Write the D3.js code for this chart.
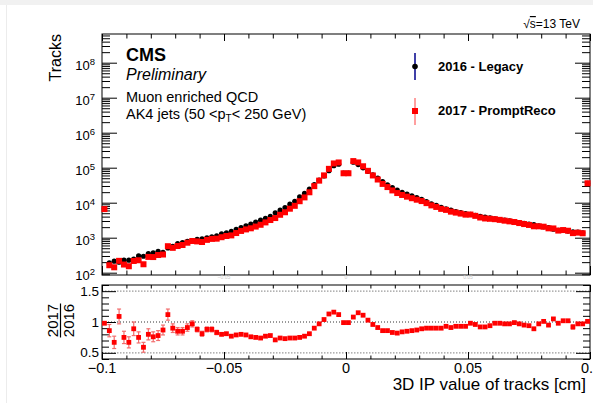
<!DOCTYPE html>
<html>
<head>
<meta charset="utf-8">
<script src="https://d3js.org/d3.v7.min.js"></script>
<style>
  body { margin: 0; background: #fff; }
  svg { display: block; }
  text { font-family: 'Liberation Sans', Arial, Helvetica, sans-serif; }
</style>
</head>
<body>
<div id="vis"></div>
<script>
// binning of the histogram: 100 bins from -0.1 to 0.1 cm
let binLow = -0.1, binWidth = 0.002, nBins = 100;

// 2016 - Legacy, tracks per bin
let counts2016 = [
  6700, 190, 213, 200, 228, 228, 243, 302, 295, 353,
  368, 410, 380, 510, 570, 680, 727, 790, 830, 890,
  930, 985, 1050, 1130, 1290, 1380, 1510, 1720, 1950, 2180,
  2440, 2770, 3160, 3550, 4100, 5130, 6100, 7300, 9100, 11000,
  14700, 18400, 24500, 33000, 44000, 58000, 82000, 114000, 126000, 70000,
  70000, 143000, 123000, 99000, 79000, 62500, 50500, 40000, 32500, 27000,
  23000, 19800, 17500, 15600, 14000, 12500, 10800, 9300, 8400, 7400,
  6700, 6100, 5600, 5250, 4900, 4680, 4380, 4100, 3850, 3690,
  3450, 3300, 3160, 3020, 2830, 2700, 2580, 2460, 2380, 2180,
  2040, 1950, 1750, 1630, 1620, 1550, 1470, 1440, 1380, 35500
];

// 2017 / 2016 ratio per bin
let ratioValues = [
  0.98, 0.86, 0.67, 1.09, 0.75, 0.67, 0.89, 0.75, 0.59, 0.80,
  0.76, 0.78, 0.87, 1.12, 0.90, 0.85, 0.85, 0.91, 0.97, 0.88,
  0.81, 0.88, 0.88, 0.83, 0.80, 0.81, 0.77, 0.79, 0.80, 0.79,
  0.76, 0.75, 0.74, 0.77, 0.78, 0.71, 0.74, 0.73, 0.74, 0.74,
  0.75, 0.77, 0.81, 0.90, 0.97, 1.04, 1.13, 1.16, 1.12, 0.99,
  0.99, 1.08, 1.15, 1.11, 1.03, 0.96, 0.91, 0.86, 0.86, 0.83,
  0.82, 0.84, 0.85, 0.86, 0.87, 0.89, 0.90, 0.90, 0.90, 0.90,
  0.93, 0.91, 0.93, 0.93, 0.93, 0.98, 0.96, 0.92, 0.92, 0.94,
  0.98, 0.98, 0.97, 0.97, 0.99, 0.97, 0.95, 0.94, 0.89, 0.97,
  1.01, 0.95, 1.05, 0.98, 1.02, 1.02, 0.92, 0.97, 0.97, 1.01
];

// ratio uncertainties
let ratioErrors = [
  0.02, 0.10, 0.10, 0.12, 0.10, 0.09, 0.11, 0.09, 0.08, 0.09,
  0.08, 0.08, 0.08, 0.09, 0.07, 0.06, 0.06, 0.06, 0.05, 0.04,
  0.04, 0.04, 0.04, 0.035, 0.03, 0.03, 0.03, 0.03, 0.025, 0.025,
  0.02, 0.02, 0.02, 0.02, 0.02, 0.015, 0.015, 0.01, 0.01, 0.01,
  0.01, 0.01, 0.01, 0.01, 0.01, 0.01, 0.01, 0.01, 0.01, 0.01,
  0.01, 0.01, 0.01, 0.01, 0.01, 0.01, 0.01, 0.01, 0.01, 0.01,
  0.01, 0.01, 0.01, 0.01, 0.01, 0.015, 0.015, 0.015, 0.015, 0.015,
  0.015, 0.015, 0.015, 0.015, 0.015, 0.02, 0.02, 0.02, 0.02, 0.02,
  0.02, 0.02, 0.02, 0.02, 0.02, 0.025, 0.025, 0.025, 0.025, 0.03,
  0.03, 0.03, 0.03, 0.03, 0.03, 0.03, 0.035, 0.03, 0.03, 0.01
];

let xTicksMajor = [-0.1, -0.05, 0, 0.05, 0.1];
let xTickLabels = ['\u22120.1', '\u22120.05', '0', '0.05', '0.'];
let logExponents = [2, 3, 4, 5, 6, 7, 8];
let ratioTicksMajor = [0.5, 1, 1.5];
let ratioTickLabels = ['0.5', '1', '1.5'];

let W = 593, H = 403;
let left = 102, right = 590;
let topY0 = 34, topY1 = 275;   // upper pad
let ratY0 = 285, ratY1 = 359;  // ratio pad

let svg = d3.select('#vis')
  .append('svg')
  .attr('width', W)
  .attr('height', H);

// faint page frame of the screenshot
svg.append('rect').attr('x', 0).attr('y', 0).attr('width', W).attr('height', 5).attr('fill', '#f1f1f1');
svg.append('line').attr('x1', 6.5).attr('x2', 6.5).attr('y1', 5).attr('y2', H).attr('stroke', '#ececec');

let x = d3.scaleLinear().domain([-0.1, 0.1]).range([left, right]);
let y = d3.scaleLog().domain([Math.pow(10, 1.934), Math.pow(10, 8.82)]).range([topY1, topY0]);
let yr = d3.scaleLinear().domain([0.4, 1.6]).range([ratY1, ratY0]);

let bins = d3.range(nBins).map(function (i) {
  return {
    x: binLow + binWidth * (i + 0.5),
    c16: counts2016[i],
    c17: counts2016[i] * ratioValues[i],
    r: ratioValues[i],
    e: ratioErrors[i]
  };
});

// tick values
let logMinor = [];
logExponents.concat([1, 8]).forEach(function (k) {
  for (let m = 2; m <= 9; m++) {
    let v = m * Math.pow(10, k);
    if (v > y.domain()[0] && v < y.domain()[1] && logMinor.indexOf(v) < 0) logMinor.push(v);
  }
});
let logMajor = logExponents.map(function (k) { return Math.pow(10, k); });
let xMinor = d3.range(-10, 11).map(function (k) { return k / 100; })
  .filter(function (v) { return Math.abs(v * 20 - Math.round(v * 20)) > 1e-6; });
let ratioMinor = d3.range(4, 17).map(function (k) { return k / 10; })
  .filter(function (v) { return [0.5, 1, 1.5].indexOf(v) < 0; });

function drawAxis(g, axis) {
  g.call(axis);
  g.select('.domain').remove();
  g.selectAll('line').attr('stroke', '#000').attr('stroke-width', 1);
  g.selectAll('text').remove();
}

function addTicks(parent, scale, orient, pos, values, size) {
  let ax;
  if (orient === 'left') ax = d3.axisLeft(scale);
  if (orient === 'right') ax = d3.axisRight(scale);
  if (orient === 'top') ax = d3.axisTop(scale);
  if (orient === 'bottom') ax = d3.axisBottom(scale);
  ax.tickValues(values).tickSize(-size).tickFormat('');
  let tr = (orient === 'left' || orient === 'right') ? 'translate(' + pos + ',0)' : 'translate(0,' + pos + ')';
  drawAxis(parent.append('g').attr('transform', tr), ax);
}

// ---------------- upper pad ----------------
let up = svg.append('g');

addTicks(up, y, 'left', left, logMajor, 15);
addTicks(up, y, 'left', left, logMinor, 8);
addTicks(up, y, 'right', right, logMajor, 15);
addTicks(up, y, 'right', right, logMinor, 8);
addTicks(up, x, 'bottom', topY1, xTicksMajor, 9);
addTicks(up, x, 'bottom', topY1, xMinor, 4.5);
addTicks(up, x, 'top', topY0, xTicksMajor, 7);
addTicks(up, x, 'top', topY0, xMinor, 4.5);

up.append('rect')
  .attr('x', left).attr('y', topY0)
  .attr('width', right - left).attr('height', topY1 - topY0)
  .attr('fill', 'none').attr('stroke', '#000').attr('stroke-width', 1);

// log labels 10^k
logExponents.forEach(function (k) {
  let t = up.append('text')
    .attr('x', 95)
    .attr('y', y(Math.pow(10, k)) + 7)
    .attr('text-anchor', 'end')
    .style('font-size', '13px');
  t.append('tspan').text('10');
  t.append('tspan').attr('dy', -5).style('font-size', '9.5px').text(k);
});

// faint hidden labels of the upper pad
[-0.05, 0, 0.05].forEach(function (v) {
  up.append('text')
    .attr('x', x(v)).attr('y', topY1 + 4)
    .attr('text-anchor', 'middle')
    .style('font-size', '5px')
    .attr('fill', '#c8c8c8')
    .text(v === 0 ? '0' : (v < 0 ? '\u22120.05' : '0.05'));
});

// Tracks title
up.append('text')
  .attr('text-anchor', 'end')
  .attr('transform', 'translate(61,' + topY0 + ')rotate(-90)')
  .style('font-size', '16px')
  .text('Tracks');

// 2016 points
up.append('g')
  .selectAll('circle')
  .data(bins)
  .enter()
  .append('circle')
  .attr('cx', function (d) { return x(d.x); })
  .attr('cy', function (d) { return y(d.c16); })
  .attr('r', 2.6)
  .attr('fill', '#000');

// 2017 points
up.append('g')
  .selectAll('rect')
  .data(bins)
  .enter()
  .append('rect')
  .attr('x', function (d) { return x(d.x) - 3; })
  .attr('y', function (d) { return y(d.c17) - 3; })
  .attr('width', 6)
  .attr('height', 6)
  .attr('fill', '#ff0000');

// CMS labels
up.append('text').attr('x', 126).attr('y', 61)
  .style('font-size', '18px').style('font-weight', 'bold').text('CMS');
up.append('text').attr('x', 126).attr('y', 80)
  .style('font-size', '16px').style('font-style', 'italic').text('Preliminary');
up.append('text').attr('x', 126).attr('y', 102)
  .style('font-size', '14.5px').text('Muon enriched QCD');
let ak = up.append('text').attr('x', 126).attr('y', 118.5).style('font-size', '14.5px');
ak.append('tspan').text('AK4 jets (50 <p');
ak.append('tspan').attr('dy', 3).style('font-size', '10px').text('T');
ak.append('tspan').attr('dy', -3).text('< 250 GeV)');

// sqrt(s) label
let ss = svg.append('text').attr('x', 580).attr('y', 28)
  .attr('text-anchor', 'end').style('font-size', '12px');
ss.append('tspan').text('\u221A');
ss.append('tspan').style('text-decoration', 'overline').text('s');
ss.append('tspan').text('=13 TeV');

// legend
let legX = 415;
let legend = up.append('g');
legend.append('line').attr('x1', legX).attr('x2', legX).attr('y1', 53).attr('y2', 80)
  .attr('stroke', '#00008b').attr('stroke-width', 1.5);
legend.append('circle').attr('cx', legX).attr('cy', 66.5).attr('r', 2.8).attr('fill', '#000');
legend.append('text').attr('x', 438).attr('y', 71)
  .style('font-size', '13px').style('font-weight', 'bold').text('2016 - Legacy');
legend.append('line').attr('x1', legX).attr('x2', legX).attr('y1', 98).attr('y2', 125)
  .attr('stroke', '#ff4040').attr('stroke-width', 1);
legend.append('rect').attr('x', legX - 3).attr('y', 108).attr('width', 6).attr('height', 6).attr('fill', '#ff0000');
legend.append('text').attr('x', 438).attr('y', 115)
  .style('font-size', '13px').style('font-weight', 'bold').text('2017 - PromptReco');

// ---------------- ratio pad ----------------
let rp = svg.append('g');

// reference lines
[0.5, 1.5].forEach(function (v) {
  rp.append('line').attr('x1', left).attr('x2', right).attr('y1', yr(v)).attr('y2', yr(v))
    .attr('stroke', '#9a9a9a').attr('stroke-width', 1.4).attr('stroke-dasharray', '1.5,1.5');
});
rp.append('line').attr('x1', left).attr('x2', right).attr('y1', yr(1)).attr('y2', yr(1))
  .attr('stroke', '#333').attr('stroke-width', 1).attr('stroke-dasharray', '1,2');

addTicks(rp, yr, 'left', left, ratioTicksMajor, 14);
addTicks(rp, yr, 'left', left, ratioMinor, 7);
addTicks(rp, yr, 'right', right, ratioTicksMajor, 14);
addTicks(rp, yr, 'right', right, ratioMinor, 7);
addTicks(rp, x, 'bottom', ratY1, xTicksMajor, 7);
addTicks(rp, x, 'bottom', ratY1, xMinor, 3.5);
addTicks(rp, x, 'top', ratY0, xTicksMajor, 7);
addTicks(rp, x, 'top', ratY0, xMinor, 3.5);

rp.append('rect')
  .attr('x', left).attr('y', ratY0)
  .attr('width', right - left).attr('height', ratY1 - ratY0)
  .attr('fill', 'none').attr('stroke', '#000').attr('stroke-width', 1);

// ratio error bars
let eb = rp.append('g').attr('stroke', '#f26d6d').attr('stroke-width', 1.2);
bins.forEach(function (d) {
  let cx = x(d.x);
  let y0 = yr(d.r - d.e), y1 = yr(d.r + d.e);
  eb.append('line').attr('x1', cx).attr('x2', cx).attr('y1', y0).attr('y2', y1);
  if (d.e > 0.03) {
    eb.append('line').attr('x1', cx - 2).attr('x2', cx + 2).attr('y1', y0).attr('y2', y0);
    eb.append('line').attr('x1', cx - 2).attr('x2', cx + 2).attr('y1', y1).attr('y2', y1);
  }
});

rp.append('g')
  .selectAll('rect')
  .data(bins)
  .enter()
  .append('rect')
  .attr('x', function (d) { return x(d.x) - 2.4; })
  .attr('y', function (d) { return yr(d.r) - 2.4; })
  .attr('width', 4.8)
  .attr('height', 4.8)
  .attr('fill', '#ff0000');

// ratio labels
ratioTicksMajor.forEach(function (v, i) {
  rp.append('text')
    .attr('x', 99).attr('y', yr(v) + 4.5)
    .attr('text-anchor', 'end')
    .style('font-size', '13.5px')
    .text(ratioTickLabels[i]);
});

// x labels
xTicksMajor.forEach(function (v, i) {
  rp.append('text')
    .attr('x', x(v)).attr('y', 373)
    .attr('text-anchor', i === 4 ? 'end' : 'middle')
    .attr('dx', i === 4 ? 3 : 0)
    .style('font-size', '14.5px')
    .text(xTickLabels[i]);
});

// ratio title as a fraction
let ft = rp.append('g').attr('transform', 'translate(0,320.5)rotate(-90)');
ft.append('text').attr('x', 0).attr('y', 58).attr('text-anchor', 'middle')
  .style('font-size', '15px').text('2017');
ft.append('text').attr('x', 0).attr('y', 74).attr('text-anchor', 'middle')
  .style('font-size', '15px').text('2016');
ft.append('line').attr('x1', -17).attr('x2', 17).attr('y1', 60.5).attr('y2', 60.5)
  .attr('stroke', '#000').attr('stroke-width', 1.2);

// x title
rp.append('text')
  .attr('x', 586).attr('y', 390)
  .attr('text-anchor', 'end')
  .style('font-size', '17px')
  .text('3D IP value of tracks [cm]');
</script>
</body>
</html>
